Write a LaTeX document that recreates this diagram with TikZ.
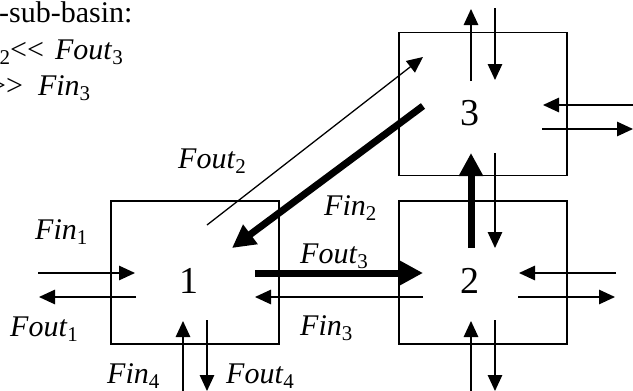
\documentclass[tikz,border=0pt]{standalone}
\usepackage{fontspec}
\setmainfont{Liberation Serif}
\usetikzlibrary{arrows.meta,calc}

\newcommand{\subsz}[1]{\raisebox{-0.17em}{\fontsize{21}{21}\selectfont #1}}
\newcommand{\fluxlbl}[2]{\textit{#1}\subsz{#2}}

\begin{document}
\begin{tikzpicture}[x=1pt,y=-1pt,
  every node/.style={font=\fontsize{30}{36}\selectfont,inner sep=0pt},
  basin/.style={draw,line width=1.7pt,minimum width=168pt,minimum height=143pt},
  digit/.style={font=\fontsize{38}{44}\selectfont,anchor=base},
  flow/.style={line width=1.3pt,-{Triangle[length=16pt,width=14.5pt]}},
  mainflow/.style={line width=7pt,-{Triangle[length=23pt,width=23pt]}},
  lbl/.style={anchor=base west}]
  \useasboundingbox (0,0) rectangle (633,391);
  % sub-basins
  \node[basin] (b1) at (195,272.5) {};
  \node[basin] (b2) at (483,272.5) {};
  \node[basin] (b3) at (483,104) {};
  \node[digit] (n1) at (188.5,293) {1};
  \node[digit] (n2) at (470,293) {2};
  \node[digit] (n3) at (470,125.5) {3};
  % notes
  \node[lbl] (t1) at (-1,22.5) {-sub-basin:};
  \node[lbl] (t2) at (-0.5,59.5) {\subsz{2}<\kern0pt<\hspace{11pt}\fluxlbl{Fout}{3}};
  \node[lbl] (t3) at (-11,95.7) {>\kern0pt>\hspace{0.5em}\fluxlbl{Fin}{3}};
  % basin 1
  \draw[flow] ($(b1.center)+(-157,0.5)$) -- ($(b1.center)+(-60,0.5)$);
  \draw[flow] ($(b1.center)+(-59,24.5)$) -- ($(b1.center)+(-156,24.5)$);
  \draw[flow] ($(b1.center)+(-12,118.5)$) -- ($(b1.center)+(-12,48.5)$);
  \draw[flow] ($(b1.center)+(12,47.5)$) -- ($(b1.center)+(12,118.5)$);
  % between 1 and 2
  \draw[mainflow] ($(b1.center)+(60,0.5)$) -- ($(b2.center)+(-60,0.5)$);
  \draw[flow] ($(b2.center)+(-60,24.5)$) -- ($(b1.center)+(60,24.5)$);
  % between 3 and 1
  \draw[mainflow] ($(b3.center)+(-60,2)$) -- ($(b1.center)+(37,-24.5)$);
  \draw[flow] ($(b1.center)+(12,-47.5)$) -- ($(b3.center)+(-60,-47)$);
  % basin 3
  \draw[flow] ($(b3.center)+(-12,-23)$) -- ($(b3.center)+(-12,-95)$);
  \draw[flow] ($(b3.center)+(12,-96)$) -- ($(b3.center)+(12,-24)$);
  \draw[flow] ($(b3.center)+(150,1)$) -- ($(b3.center)+(60,1)$);
  \draw[flow] ($(b3.center)+(59,25)$) -- ($(b3.center)+(150,25)$);
  % between 2 and 3
  \draw[mainflow] ($(b2.center)+(-12,-24.5)$) -- ($(b3.center)+(-12,49)$);
  \draw[flow] ($(b3.center)+(12,49)$) -- ($(b2.center)+(12,-24.5)$);
  % basin 2
  \draw[flow] ($(b2.center)+(133,0.5)$) -- ($(b2.center)+(36,0.5)$);
  \draw[flow] ($(b2.center)+(35,24.5)$) -- ($(b2.center)+(132,24.5)$);
  \draw[flow] ($(b2.center)+(-12,118.5)$) -- ($(b2.center)+(-12,48.5)$);
  \draw[flow] ($(b2.center)+(12,47.5)$) -- ($(b2.center)+(12,118.5)$);
  % flux labels
  \node[lbl] (fin1) at (35,239) {\fluxlbl{Fin}{1}};
  \node[lbl] (fout1) at (10,336.5) {\fluxlbl{Fout}{1}};
  \node[lbl] (fin4) at (107,383) {\fluxlbl{Fin}{4}};
  \node[lbl] (fout4) at (226,383) {\fluxlbl{Fout}{4}};
  \node[lbl] (fout2) at (178,168) {\fluxlbl{Fout}{2}};
  \node[lbl] (fin2) at (324,215.5) {\fluxlbl{Fin}{2}};
  \node[lbl] (fout3) at (300,263) {\fluxlbl{Fout}{3}};
  \node[lbl] (fin3) at (300,335) {\fluxlbl{Fin}{3}};
\end{tikzpicture}
\end{document}
